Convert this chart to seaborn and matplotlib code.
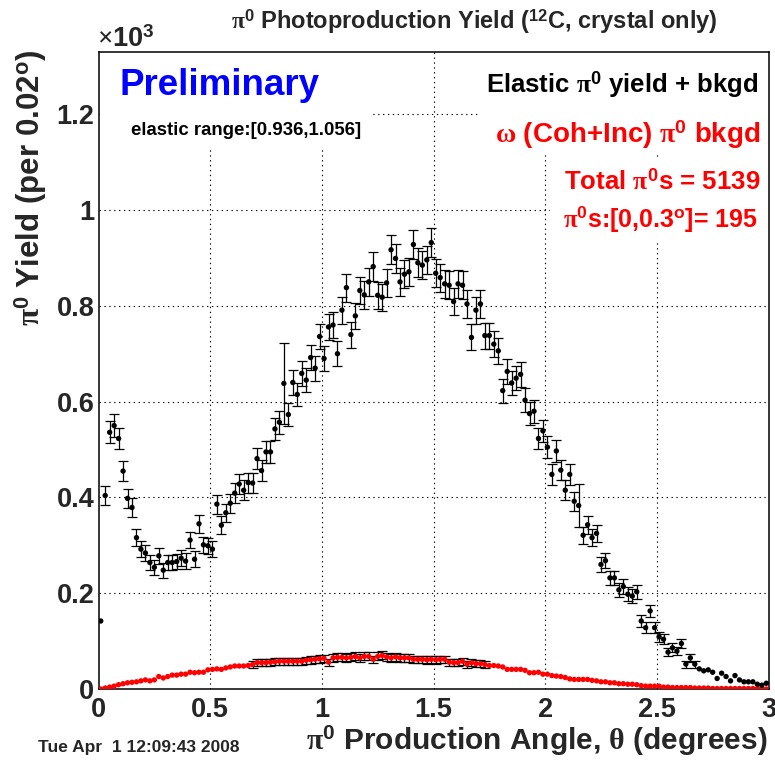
import numpy as np
import pandas as pd
import matplotlib
matplotlib.use("Agg")
import matplotlib.pyplot as plt
from matplotlib import font_manager
from matplotlib.patches import Rectangle
from matplotlib.ticker import MultipleLocator, FixedLocator, FuncFormatter
import seaborn as sns

# ---- histogram contents (150 bins of 0.02 deg, yield in units of 10^3) ----
n_bins = 150
bin_width = 0.02

elastic_yield = [
    0.142, 0.404, 0.536, 0.550, 0.523, 0.455, 0.398, 0.379, 0.316, 0.292,
    0.284, 0.264, 0.254, 0.278, 0.248, 0.264, 0.264, 0.266, 0.273, 0.267,
    0.311, 0.271, 0.345, 0.301, 0.299, 0.292, 0.386, 0.342, 0.368, 0.388,
    0.409, 0.428, 0.415, 0.431, 0.430, 0.481, 0.456, 0.495, 0.495, 0.543,
    0.557, 0.638, 0.573, 0.640, 0.615, 0.659, 0.645, 0.692, 0.670, 0.736,
    0.690, 0.756, 0.760, 0.700, 0.791, 0.838, 0.740, 0.779, 0.832, 0.823,
    0.850, 0.882, 0.822, 0.818, 0.848, 0.917, 0.899, 0.850, 0.866, 0.871,
    0.928, 0.890, 0.885, 0.896, 0.932, 0.868, 0.859, 0.846, 0.843, 0.809,
    0.846, 0.843, 0.804, 0.734, 0.791, 0.804, 0.738, 0.738, 0.720, 0.706,
    0.623, 0.663, 0.639, 0.649, 0.657, 0.603, 0.575, 0.580, 0.523, 0.539,
    0.505, 0.448, 0.497, 0.457, 0.415, 0.448, 0.392, 0.383, 0.321, 0.343,
    0.316, 0.325, 0.260, 0.268, 0.232, 0.232, 0.207, 0.214, 0.198, 0.194,
    0.203, 0.142, 0.128, 0.163, 0.128, 0.109, 0.104, 0.077, 0.086, 0.079,
    0.095, 0.052, 0.065, 0.052, 0.042, 0.038, 0.040, 0.035, 0.022, 0.033,
    0.026, 0.017, 0.028, 0.019, 0.015, 0.015, 0.015, 0.010, 0.008, 0.012,
]

omega_bkgd = [
    0.000, 0.002, 0.004, 0.006, 0.009, 0.011, 0.013, 0.014, 0.015, 0.017,
    0.019, 0.017, 0.019, 0.026, 0.023, 0.026, 0.029, 0.029, 0.031, 0.031,
    0.035, 0.034, 0.035, 0.035, 0.040, 0.041, 0.042, 0.041, 0.044, 0.046,
    0.048, 0.048, 0.048, 0.049, 0.051, 0.055, 0.055, 0.055, 0.056, 0.057,
    0.058, 0.058, 0.058, 0.058, 0.058, 0.058, 0.060, 0.061, 0.062, 0.063,
    0.064, 0.056, 0.065, 0.066, 0.066, 0.065, 0.066, 0.068, 0.065, 0.068,
    0.068, 0.062, 0.068, 0.070, 0.067, 0.065, 0.067, 0.065, 0.065, 0.065,
    0.062, 0.062, 0.062, 0.061, 0.062, 0.061, 0.062, 0.062, 0.056, 0.055,
    0.055, 0.058, 0.052, 0.055, 0.053, 0.053, 0.051, 0.049, 0.049, 0.048,
    0.046, 0.041, 0.041, 0.041, 0.041, 0.039, 0.034, 0.034, 0.035, 0.031,
    0.031, 0.028, 0.027, 0.026, 0.024, 0.021, 0.020, 0.020, 0.020, 0.020,
    0.018, 0.017, 0.015, 0.015, 0.013, 0.013, 0.011, 0.011, 0.010, 0.010,
    0.009, 0.007, 0.006, 0.006, 0.006, 0.006, 0.004, 0.004, 0.003, 0.003,
    0.003, 0.003, 0.003, 0.002, 0.002, 0.002, 0.002, 0.001, 0.001, 0.001,
    0.001, 0.001, 0.001, 0.001, 0.001, 0.001, 0.001, 0.001, 0.001, 0.000,
]

# bins whose fitted error is larger than the counting error
elastic_err_override = {41: 0.084, 107: 0.045}
# range of bins drawn with error bars
elastic_err_bins = (1, 133)
omega_err_bins = (34, 86)

x_ticks = [0, 0.5, 1, 1.5, 2, 2.5, 3]
y_ticks = [0, 0.2, 0.4, 0.6, 0.8, 1.0, 1.2]

title_text = r"$\mathrm{\pi}^{\mathbf{0}}$ Photoproduction Yield ($^{\mathbf{12}}$C, crystal only)"
xlabel_text = r"$\mathrm{\pi}^{\mathbf{0}}$ Production Angle, $\mathrm{\theta}$ (degrees)"
ylabel_text = r"$\mathrm{\pi}^{\mathbf{0}}$ Yield (per 0.02$^{\mathbf{o}}$)"
legend_elastic = r"Elastic $\mathrm{\pi}^{\mathbf{0}}$ yield + bkgd"
legend_omega = r"$\mathrm{\omega}$ (Coh+Inc) $\mathrm{\pi}^{\mathbf{0}}$ bkgd"
total_text = r"Total $\mathrm{\pi}^{\mathbf{0}}$s = 5139"
forward_text = r"$\mathrm{\pi}^{\mathbf{0}}$s:[0,0.3$^{\mathbf{o}}$]= 195"
range_text = "elastic range:[0.936,1.056]"
prelim_text = "Preliminary"
date_text = "Tue Apr  1 12:09:43 2008"

# ---- fonts ----
sns.set_style("white")
available = {f.name for f in font_manager.fontManager.ttflist}
def pick(*names):
    for n in names:
        if n in available:
            return n
    return "DejaVu Sans"
SANS = pick("Liberation Sans", "Arial", "DejaVu Sans")
SERIF = pick("Liberation Serif", "DejaVu Serif")
plt.rcParams["font.family"] = [SANS, "DejaVu Sans"]
plt.rcParams["font.weight"] = "bold"
plt.rcParams["mathtext.fontset"] = "custom"
plt.rcParams["mathtext.rm"] = SERIF
plt.rcParams["mathtext.it"] = SERIF
plt.rcParams["mathtext.bf"] = SANS + ":bold"
plt.rcParams["mathtext.default"] = "rm"

# ---- data frames ----
centers = (np.arange(n_bins) + 0.5) * bin_width
elastic = np.asarray(elastic_yield)
omega = np.asarray(omega_bkgd)
# counting errors, sqrt(N) with N in counts
elastic_err = np.sqrt(elastic * 1000.0) / 1000.0
for k, v in elastic_err_override.items():
    elastic_err[k] = v
omega_err = np.sqrt(omega * 1000.0) / 1000.0

df_el = pd.DataFrame({"theta": centers, "yield": elastic, "err": elastic_err})
df_om = pd.DataFrame({"theta": centers, "yield": omega, "err": omega_err})

# ---- figure ----
W, H = 775, 763
fig = plt.figure(figsize=(W / 100, H / 100), dpi=100)
ax_l, ax_r, ax_t, ax_b = 98.5, 768.5, 52, 689
ax = fig.add_axes([ax_l / W, 1 - ax_b / H, (ax_r - ax_l) / W, (ax_b - ax_t) / H])
ax.set_xlim(0, 3)
ax.set_ylim(0, 1.33)

# dotted grid at the major ticks
grid_kw = dict(color="black", lw=0.8, ls=(0, (1.2, 3.2)), zorder=0.6)
for xv in x_ticks[1:-1]:
    ax.axvline(xv, **grid_kw)
for yv in y_ticks[1:]:
    ax.axhline(yv, **grid_kw)

# white text panels sitting over the grid
def panel(x0, x1, y0, y1):
    ax.add_patch(Rectangle((x0, y0), x1 - x0, y1 - y0, facecolor="white",
                           edgecolor="none", zorder=0.7))
panel(0.005, 1.224, 1.125, 1.33)
panel(1.709, 2.998, 1.118, 1.33)
panel(2.02, 2.998, 0.937, 1.104)

# error bars
eb_kw = dict(fmt="none", ecolor="black", elinewidth=0.9, capsize=3.3,
             capthick=0.9, zorder=2)
sel = df_el.iloc[elastic_err_bins[0]:elastic_err_bins[1] + 1]
ax.errorbar(sel["theta"], sel["yield"], yerr=sel["err"], **eb_kw)
sel = df_om.iloc[omega_err_bins[0]:omega_err_bins[1] + 1]
ax.errorbar(sel["theta"], sel["yield"], yerr=sel["err"], **eb_kw)

# markers
sns.scatterplot(data=df_om, x="theta", y="yield", color="red", s=15,
                linewidth=0, edgecolor="none", ax=ax, zorder=3)
sns.scatterplot(data=df_el, x="theta", y="yield", color="black", s=15,
                linewidth=0, edgecolor="none", ax=ax, zorder=4)

# axes styling
ax.set_axisbelow(False)
for sp in ax.spines.values():
    sp.set_color("black")
    sp.set_linewidth(1.1)
    sp.set_visible(True)
ax.xaxis.set_major_locator(FixedLocator(x_ticks))
ax.xaxis.set_minor_locator(MultipleLocator(0.1))
ax.yaxis.set_major_locator(FixedLocator(y_ticks))
ax.yaxis.set_minor_locator(MultipleLocator(0.05))
fmt = FuncFormatter(lambda v, p: "%g" % v)
ax.xaxis.set_major_formatter(fmt)
ax.yaxis.set_major_formatter(fmt)
ax.tick_params(which="both", direction="in", top=False, right=False,
               color="black", width=0.8)
ax.tick_params(which="major", length=13.5, labelsize=19.5)
ax.tick_params(which="minor", length=7)
ax.tick_params(axis="x", which="major", pad=6)
ax.tick_params(axis="y", which="major", pad=3)
for lab in ax.get_xticklabels() + ax.get_yticklabels():
    lab.set_fontweight("bold")
ax.set_xlabel("")
ax.set_ylabel("")

# labels and annotations
fig.text(474.5 / W, 1 - 29 / H, title_text, ha="center", va="baseline",
         fontsize=17, fontweight="bold")
fig.text(768 / W, 1 - 750 / H, xlabel_text, ha="right", va="baseline",
         fontsize=21.5, fontweight="bold")
fig.text(49 / W, 1 - 50 / H, ylabel_text, ha="right", va="top",
         rotation=90, fontsize=22.5, fontweight="bold")
fig.text(97 / W, 1 - 47 / H, r"$\times$10$^{\mathbf{3}}$", ha="left",
         va="baseline", fontsize=19.5, fontweight="bold")
fig.text(38 / W, 1 - 752 / H, date_text, ha="left", va="baseline",
         fontsize=12.5, fontweight="bold")

def ax_text(px, py, s, **kw):
    ax.text((px - ax_l) / (ax_r - ax_l), (ax_b - py) / (ax_b - ax_t), s,
            transform=ax.transAxes, va="baseline", fontweight="bold",
            zorder=5, **kw)

ax_text(120, 95, prelim_text, ha="left", fontsize=26.5, color="#0000ff")
ax_text(131, 135, range_text, ha="left", fontsize=13.4, color="black")
ax_text(758, 93, legend_elastic, ha="right", fontsize=18.5, color="black")
ax_text(760, 143, legend_omega, ha="right", fontsize=20, color="red")
ax_text(760, 190, total_text, ha="right", fontsize=18.6, color="red")
ax_text(758, 227, forward_text, ha="right", fontsize=18, color="red")

fig.savefig("out.png", dpi=100, facecolor="white")
